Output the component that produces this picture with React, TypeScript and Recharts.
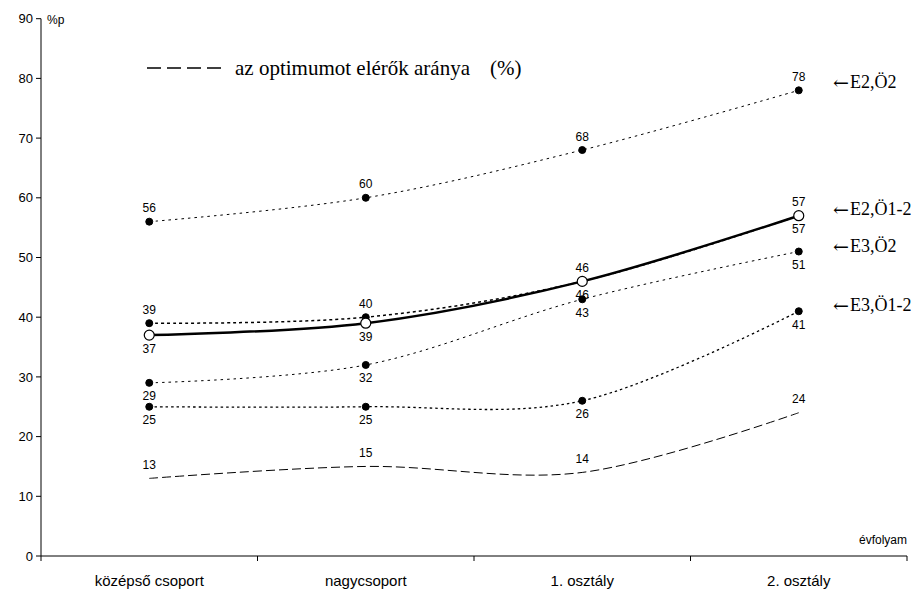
import React from 'react';
import { LineChart, Line, XAxis, YAxis, LabelList } from 'recharts';

const categories = ['középső csoport', 'nagycsoport', '1. osztály', '2. osztály'];
const xPositions = [0.5, 1.5, 2.5, 3.5];
const e2o2 = [56, 60, 68, 78];
const e2o12 = [37, 39, 46, 57];
const extra = [39, 40, 46, 57];
const e3o2 = [29, 32, 43, 51];
const e3o12 = [25, 25, 26, 41];
const optimum = [13, 15, 14, 24];
const yTicks = [0, 10, 20, 30, 40, 50, 60, 70, 80, 90];
const xTicks = [0, 0.5, 1, 1.5, 2, 2.5, 3, 3.5, 4];

const e2o2Pos = ['a', 'a', 'a', 'a'];
const e2o12Pos = ['b', 'b', 'a', 'a'];
const extraPos = ['a', 'a', 'b', 'b'];
const e3o2Pos = ['b', 'b', 'b', 'b'];
const e3o12Pos = ['b', 'b', 'b', 'b'];
const optimumPos = ['a', 'a', 'a', 'a'];

const annotations = [
  { text: 'E2,Ö2', y: 82 },
  { text: 'E2,Ö1-2', y: 209 },
  { text: 'E3,Ö2', y: 246 },
  { text: 'E3,Ö1-2', y: 305 },
];

const legendText = 'az optimumot elérők aránya';

const data = categories.map((c, i) => ({
  x: xPositions[i],
  cat: c,
  e2o2: e2o2[i],
  e2o12: e2o12[i],
  extra: extra[i],
  e3o2: e3o2[i],
  e3o12: e3o12[i],
  optimum: optimum[i],
}));

const SANS = '"Liberation Sans", Arial, sans-serif';
const SERIF = '"Liberation Serif", "Times New Roman", serif';

// cardinal (tension 0) curve, like d3.curveCardinal
const cardinal = (context: any) => {
  let pts: number[][] = [];
  return {
    areaStart() {},
    areaEnd() {},
    lineStart() {
      pts = [];
    },
    point(x: number, y: number) {
      pts.push([+x, +y]);
    },
    lineEnd() {
      const n = pts.length;
      if (!n) return;
      context.moveTo(pts[0][0], pts[0][1]);
      if (n === 1) return;
      if (n === 2) {
        context.lineTo(pts[1][0], pts[1][1]);
        return;
      }
      for (let i = 0; i < n - 1; i++) {
        const p1 = pts[i];
        const p2 = pts[i + 1];
        const c1 =
          i === 0
            ? p1
            : [p1[0] + (p2[0] - pts[i - 1][0]) / 6, p1[1] + (p2[1] - pts[i - 1][1]) / 6];
        const c2 =
          i + 2 >= n
            ? p2
            : [p2[0] - (pts[i + 2][0] - p1[0]) / 6, p2[1] - (pts[i + 2][1] - p1[1]) / 6];
        context.bezierCurveTo(c1[0], c1[1], c2[0], c2[1], p2[0], p2[1]);
      }
    },
  };
};

const makeLabel = (pos: string[]) => (props: any) => {
  const { x, y, value, index } = props;
  const p = pos[index] ?? 'a';
  const dy = p === 'a' ? -13.5 : 13.5;
  return (
    <text
      x={x}
      y={y + dy}
      textAnchor="middle"
      dominantBaseline="central"
      fontSize={12}
      fontFamily={SANS}
      fill="#000"
    >
      {value}
    </text>
  );
};

const XTick = (props: any) => {
  const { x, y, payload } = props;
  const v = payload.value;
  if (Number.isInteger(v)) {
    return <line x1={x} y1={y} x2={x} y2={y + 5} stroke="#000" strokeWidth={1} />;
  }
  const idx = Math.floor(v);
  return (
    <text
      x={x}
      y={y + 24}
      textAnchor="middle"
      dominantBaseline="central"
      fontSize={15}
      fontFamily={SANS}
      fill="#000"
    >
      {categories[idx]}
    </text>
  );
};

const blackDot = { r: 3.5, fill: '#000', stroke: '#000', strokeWidth: 1, strokeDasharray: '0' };

export default function App() {
  return (
    <div style={{ position: 'absolute', left: 0, top: 0, width: 920, height: 589, background: '#fff' }}>
      <LineChart
        width={920}
        height={589}
        data={data}
        margin={{ top: 18.7, right: 13, bottom: 0, left: 0 }}
      >
        <XAxis
          dataKey="x"
          type="number"
          domain={[0, 4]}
          ticks={xTicks}
          interval={0}
          height={33}
          tickLine={false}
          tickSize={0}
          tickMargin={0}
          axisLine={{ stroke: '#000', strokeWidth: 1 }}
          tick={<XTick />}
        />
        <YAxis
          type="number"
          domain={[0, 90]}
          ticks={yTicks}
          interval={0}
          width={41}
          tickSize={5}
          tickMargin={3}
          axisLine={{ stroke: '#000', strokeWidth: 1 }}
          tickLine={{ stroke: '#000', strokeWidth: 1 }}
          tick={{ fill: '#000', fontSize: 13, fontFamily: SANS }}
        />
        <Line
          dataKey="optimum"
          type={cardinal as any}
          stroke="#000"
          strokeWidth={1}
          strokeDasharray="9 4"
          dot={false}
          activeDot={false}
          isAnimationActive={false}
        >
          <LabelList dataKey="optimum" content={makeLabel(optimumPos)} />
        </Line>
        <Line
          dataKey="e3o12"
          type={cardinal as any}
          stroke="#000"
          strokeWidth={1.3}
          strokeDasharray="2.5 3"
          dot={blackDot}
          activeDot={false}
          isAnimationActive={false}
        >
          <LabelList dataKey="e3o12" content={makeLabel(e3o12Pos)} />
        </Line>
        <Line
          dataKey="e3o2"
          type={cardinal as any}
          stroke="#000"
          strokeWidth={1}
          strokeDasharray="2.5 4"
          dot={blackDot}
          activeDot={false}
          isAnimationActive={false}
        >
          <LabelList dataKey="e3o2" content={makeLabel(e3o2Pos)} />
        </Line>
        <Line
          dataKey="e2o2"
          type={cardinal as any}
          stroke="#000"
          strokeWidth={1}
          strokeDasharray="2.5 4"
          dot={blackDot}
          activeDot={false}
          isAnimationActive={false}
        >
          <LabelList dataKey="e2o2" content={makeLabel(e2o2Pos)} />
        </Line>
        <Line
          dataKey="extra"
          type={cardinal as any}
          stroke="#000"
          strokeWidth={1.5}
          strokeDasharray="3 3"
          dot={blackDot}
          activeDot={false}
          isAnimationActive={false}
        >
          <LabelList dataKey="extra" content={makeLabel(extraPos)} />
        </Line>
        <Line
          dataKey="e2o12"
          type={cardinal as any}
          stroke="#000"
          strokeWidth={2.5}
          dot={{ r: 5, fill: '#fff', stroke: '#000', strokeWidth: 1.2 }}
          activeDot={false}
          isAnimationActive={false}
        >
          <LabelList dataKey="e2o12" content={makeLabel(e2o12Pos)} />
        </Line>
      </LineChart>
      <svg
        width={920}
        height={589}
        style={{ position: 'absolute', left: 0, top: 0, pointerEvents: 'none' }}
      >
        <text x={47} y={20} dominantBaseline="central" fontSize={12} fontFamily={SANS} fill="#000">
          %p
        </text>
        <text x={907} y={540} textAnchor="end" dominantBaseline="central" fontSize={12} fontFamily={SANS} fill="#000">
          évfolyam
        </text>
        <line x1={147} y1={68} x2={222} y2={68} stroke="#000" strokeWidth={1.5} strokeDasharray="14 6" />
        <text x={235} y={68} dominantBaseline="central" fontSize={21} fontFamily={SERIF} fill="#000">
          {legendText}
        </text>
        <text x={490} y={68} dominantBaseline="central" fontSize={21} fontFamily={SERIF} fill="#000">
          (%)
        </text>
        {annotations.map((a) => (
          <g key={a.text}>
            <text
              x={833}
              y={a.y}
              dominantBaseline="central"
              fontSize={18}
              fontFamily='"DejaVu Serif", serif'
              fill="#000"
              textLength={16}
              lengthAdjust="spacingAndGlyphs"
            >
              ←
            </text>
            <text x={850} y={a.y} dominantBaseline="central" fontSize={18} fontFamily={SERIF} fill="#000">
              {a.text}
            </text>
          </g>
        ))}
      </svg>
    </div>
  );
}
